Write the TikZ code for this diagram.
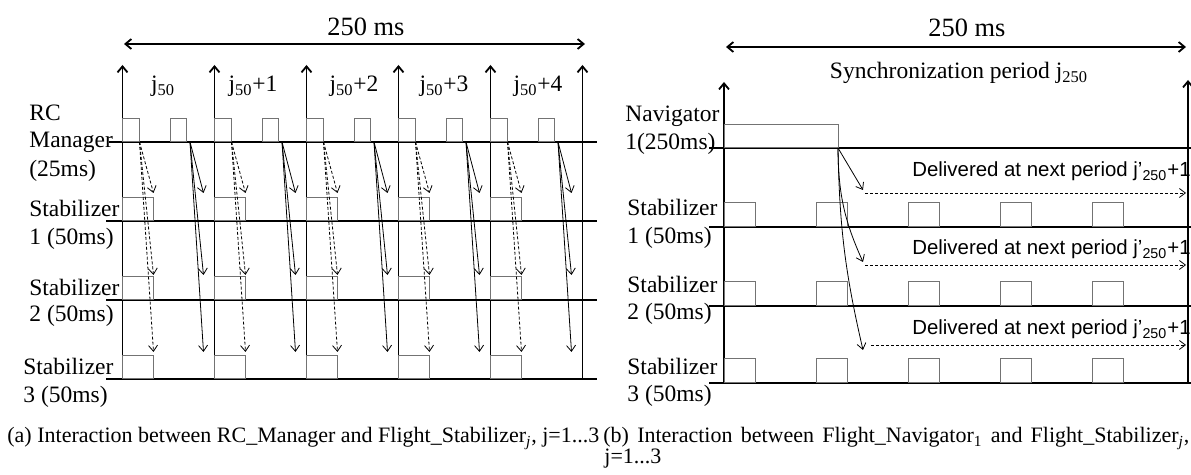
\documentclass[tikz,border=0pt]{standalone}
\usepackage{fontspec}
\setmainfont{Liberation Serif}
\newfontfamily\delivfont{Liberation Sans}
\usetikzlibrary{arrows.meta}

\tikzset{
  lbl/.style={anchor=base west, inner sep=0pt, font=\fontsize{11.75}{14}\selectfont},
  per/.style={anchor=base, inner sep=0pt, font=\fontsize{11.75}{14}\selectfont},
  span/.style={anchor=base, inner sep=0pt, font=\fontsize{13.2}{15}\selectfont},
  deliv/.style={anchor=base east, inner sep=0pt, font=\delivfont\fontsize{10.2}{12}\selectfont},
  captxt/.style={anchor=base west, inner sep=0pt, font=\fontsize{11}{13}\selectfont},
  dur/.style={line width=0.9pt, {Straight Barb[length=3pt,width=5pt]}-{Straight Barb[length=3pt,width=5pt]}},
  tick/.style={line width=0.9pt, -{Straight Barb[length=3pt,width=5pt]}},
  row/.style={line width=0.9pt},
  job/.style={draw=black!55, line width=0.5pt},
  msg/.style={line width=0.4pt, -{Straight Barb[length=3pt,width=4.5pt]}},
  late/.style={msg, dash pattern=on 1.5pt off 1pt}
}

\begin{document}
\begin{tikzpicture}[x=0.5pt, y=-0.5pt]
    \useasboundingbox (0,0) rectangle (1191,475);

    % ---------- (a) RC_Manager -> Stabilizers ----------
    % hyperperiod span
    \node[span] (spanA) at (366,36) {250 ms};
    \draw[dur] (124,44) -- (585,44);

    % period boundaries and period names
    \foreach \k in {0,...,5} {
      \draw[tick] ({122.5+92*\k},379) -- ({122.5+92*\k},65);
    }
    \foreach \c/\t [count=\i] in {163/{j\textsubscript{50}}, 253/{j\textsubscript{50}+1},
        354/{j\textsubscript{50}+2}, 444/{j\textsubscript{50}+3}, 538/{j\textsubscript{50}+4}} {
      \node[per] (perA\i) at (\c,92) {\t};
    }

    % task rows
    \draw[row] (109,142) -- (597,142);
    \foreach \y in {221,300,379} {
      \draw[row] (106,\y) -- (597,\y);
    }

    % RC Manager jobs (25ms) and Stabilizer jobs (50ms)
    \foreach \k in {0,...,4} {
      \draw[job] ({122.5+92*\k},119) rectangle +(16.5,23);
      \draw[job] ({170+92*\k},119) rectangle +(16.5,23);
      \foreach \y in {198,277,356} {
        \draw[job] ({122.5+92*\k},\y) rectangle +(31,23);
      }
    }

    % messages: dashed from first job, solid from second job
    \foreach \k in {0,...,4} {
      \foreach \t in {193,275,352} {
        \draw[late] ({139.5+92*\k},142) -- ({153.5+92*\k},\t);
        \draw[msg] ({190+92*\k},142) -- ({203.5+92*\k},\t);
      }
    }

    % row names
    \node[lbl] (rcA) at (29,121) {RC};
    \node[lbl] (rcB) at (29,148) {Manager};
    \node[lbl] (rcC) at (29,177) {(25ms)};
    \node[lbl] (stA1) at (29,217) {Stabilizer};
    \node[lbl] (stA1b) at (29,245) {1 (50ms)};
    \node[lbl] (stA2) at (29,296) {Stabilizer};
    \node[lbl] (stA2b) at (29,322) {2 (50ms)};
    \node[lbl] (stA3) at (23,375) {Stabilizer};
    \node[lbl] (stA3b) at (23,403) {3 (50ms)};

    \node[captxt] (capA) at (7,443)
      {(a) Interaction between RC\_Manager and Flight\_Stabilizer\textsubscript{\textit{j}}, j=1...3};

    % ---------- (b) Navigator -> Stabilizers ----------
    \node[span] (spanB) at (967,37) {250 ms};
    \draw[dur] (726,47) -- (1186,47);
    \node[per] (sync) at (959,79) {Synchronization period j\textsubscript{250}};

    \draw[tick] (724,383) -- (724,82);
    \draw[tick] (1188,383) -- (1188,80);

    % task rows
    \foreach \y in {148,227,306,383} {
      \draw[row] (709,\y) -- (1191,\y);
    }

    % Navigator job (250ms)
    \draw[job] (724,125) rectangle (838,148);

    % Stabilizer jobs
    \foreach \k in {0,...,4} {
      \foreach \y in {203,282,359} {
        \draw[job] ({724+92*\k},\y) rectangle +(31,24);
      }
    }

    % outputs of the Navigator, delivered one period later
    \draw[msg] (838,148) -- (863,190);
    \draw[msg] (838,148) to[bend right=12] (863,262);
    \draw[msg] (838,148) to[bend right=6] (863,350);
    \draw[late] (865,193) -- (1186,193);
    \draw[late] (865,265) -- (1186,265);
    \draw[late] (871,345) -- (1186,345);
    \node[deliv] (delA) at (1191,177) {Delivered at next period j’\textsubscript{250}+1};
    \node[deliv] (delB) at (1191,255) {Delivered at next period j’\textsubscript{250}+1};
    \node[deliv] (delC) at (1191,335) {Delivered at next period j’\textsubscript{250}+1};

    % row names
    \node[lbl] (navA) at (625,122) {Navigator};
    \node[lbl] (navB) at (625,150) {1(250ms)};
    \node[lbl] (stB1) at (627,216) {Stabilizer};
    \node[lbl] (stB1b) at (627,244) {1 (50ms)};
    \node[lbl] (stB2) at (627,293) {Stabilizer};
    \node[lbl] (stB2b) at (627,320) {2 (50ms)};
    \node[lbl] (stB3) at (627,375) {Stabilizer};
    \node[lbl] (stB3b) at (627,402) {3 (50ms)};

    \node[captxt] (capB) at (603,443)
      {\makebox[293pt][s]{(b) Interaction between Flight\_Navigator\textsubscript{1} and Flight\_Stabilizer\textsubscript{\textit{j}},}};
    \node[captxt] (capB2) at (604,464) {j=1...3};
\end{tikzpicture}
\end{document}
